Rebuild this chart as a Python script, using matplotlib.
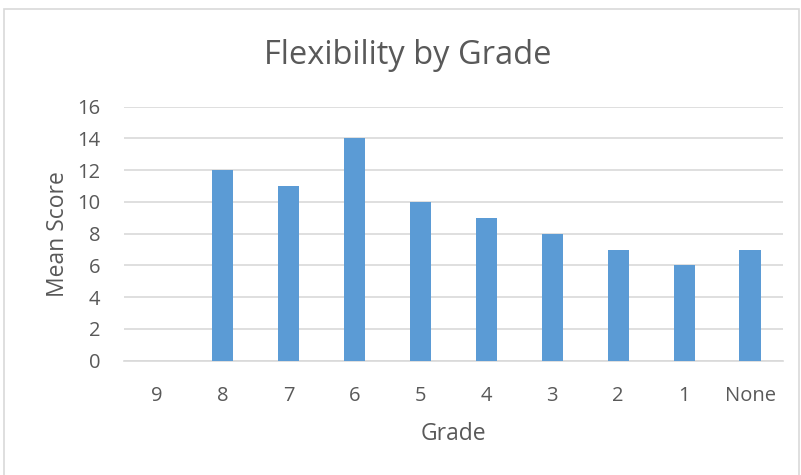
import matplotlib.pyplot as plt
import numpy as np
from matplotlib.patches import Rectangle

grades = ["9", "8", "7", "6", "5", "4", "3", "2", "1", "None"]
mean_score = [0, 12, 11, 14, 10, 9, 8, 7, 6, 7]

txt = "#595959"
plt.rcParams['font.family'] = ['Open Sans', 'DejaVu Sans']

fig = plt.figure(figsize=(8.01, 4.75), dpi=100)
ax = fig.add_axes([0.1548, 0.2406, 0.8227, 0.5348])

x = np.arange(len(grades))
ax.bar(x, mean_score, width=0.32, color="#5b9bd5", zorder=3)

ax.set_xlim(-0.5, len(grades) - 0.5)
ax.set_ylim(0, 16)
ax.set_yticks(range(0, 17, 2))
ax.set_xticks(x)
ax.set_xticklabels(grades)
ax.grid(axis="y", color="#d9d9d9", linewidth=1.2, zorder=0)
for s in ["top", "right", "left"]:
    ax.spines[s].set_visible(False)
ax.spines["bottom"].set_color("#d9d9d9")
ax.spines["bottom"].set_linewidth(1.2)
ax.tick_params(length=0, labelsize=14.5, colors=txt)
ax.tick_params(axis="y", pad=17)
ax.tick_params(axis="x", pad=18)

ax.set_xlabel("Grade", fontsize=16.5, color=txt, labelpad=12)
ax.set_ylabel("Mean Score", fontsize=16.5, color=txt, labelpad=5)
fig.text(0.509, 0.883, "Flexibility by Grade", fontsize=23.5, color=txt,
         ha="center", va="center")

# chart frame
fig.patches.append(Rectangle((3.5 / 801, -0.01), 795 / 801, 1.01 - 8.5 / 475,
                             transform=fig.transFigure, fill=False,
                             edgecolor="#d9d9d9", linewidth=1.2))

fig.savefig("out.png", dpi=100)
